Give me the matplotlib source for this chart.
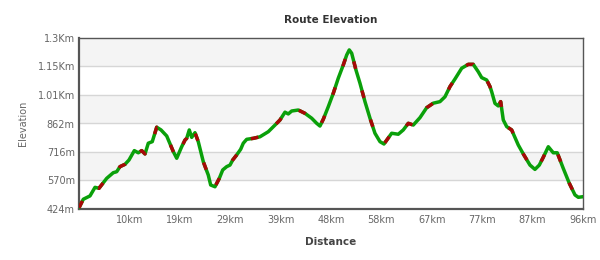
import matplotlib
matplotlib.use("Agg")
import matplotlib.pyplot as plt

distance_km = [0.0, 0.82, 2.10, 3.06, 3.82, 5.29, 6.55, 7.20, 7.83, 8.79, 9.55, 10.57, 11.33,
               11.98, 12.61, 13.24, 14.00, 14.85, 15.67, 16.76, 18.02, 18.67, 19.62, 20.25,
               20.58, 21.07, 21.53, 22.16, 22.79, 23.75, 24.70, 25.16, 25.98, 26.81, 27.46,
               28.22, 28.85, 29.37, 30.13, 30.89, 31.39, 32.04, 33.30, 34.58, 36.17, 37.45,
               38.40, 39.36, 39.99, 40.64, 41.90, 43.18, 44.46, 45.41, 46.04, 46.68, 47.63,
               48.59, 49.54, 50.50, 51.15, 51.64, 52.10, 52.92, 53.69, 54.64, 55.60, 56.55,
               57.51, 58.27, 59.74, 61.00, 61.96, 62.92, 63.87, 65.15, 66.43, 67.69, 68.97,
               69.93, 70.88, 71.84, 73.12, 74.38, 75.33, 76.29, 76.94, 77.89, 78.53, 78.85,
               79.48, 80.11, 80.57, 81.07, 81.72, 82.67, 83.93, 84.89, 86.17, 87.12, 87.95,
               88.71, 89.67, 90.62, 91.38, 92.53, 93.68, 94.77, 95.40, 96.30]
elevation_m = [430, 474, 491, 535, 530, 581, 610, 615, 641, 653, 675, 723, 712,
               723, 706, 761, 769, 843, 829, 798, 718, 684, 743, 777,
               786, 829, 791, 815, 769, 666, 598, 547, 538, 581, 624,
               641, 649, 675, 701, 730, 761, 781, 786, 794, 820, 854,
               880, 920, 911, 926, 931, 914, 889, 863, 849, 884, 948,
               1017, 1094, 1162, 1213, 1239, 1222, 1136, 1068, 974, 889, 812,
               769, 757, 812, 807, 829, 863, 854, 892, 943, 966, 974,
               999, 1051, 1090, 1145, 1165, 1165, 1127, 1097, 1085, 1051, 1025,
               965, 952, 974, 880, 846, 829, 752, 706, 649, 627, 649,
               689, 743, 712, 712, 632, 556, 496, 484, 487]

y_ticks = [424, 570, 716, 862, 1008, 1154, 1300]
y_labels = ["424m", "570m", "716m", "862m", "1.01Km", "1.15Km", "1.3Km"]
x_ticks = [9.63, 19.26, 28.89, 38.52, 48.15, 57.78, 67.41, 77.04, 86.67, 96.3]
x_labels = ["10km", "19km", "29km", "39km", "48km", "58km", "67km", "77km", "87km", "96km"]

fig = plt.figure(figsize=(6, 2.6), dpi=100)
ax = fig.add_axes([79/600, 51/260, 504/600, 171/260])
ax.set_xlim(0, 96.3)
ax.set_ylim(424, 1300)

# alternating bands
for i in range(len(y_ticks) - 1):
    if i % 2 == 1:
        ax.axhspan(y_ticks[i], y_ticks[i+1], color="#f4f4f4", zorder=0, lw=0)
for yt in y_ticks[1:-1]:
    ax.axhline(yt, color="#d6d6d6", lw=1, zorder=1)

ax.plot(distance_km, elevation_m, color="#0aa00a", lw=2.5, solid_capstyle="round",
        solid_joinstyle="round", zorder=3)
ax.plot(distance_km, elevation_m, color="#a80808", lw=2.5, dashes=(2.2, 6.5),
        dash_capstyle="butt", zorder=4)

ax.set_yticks(y_ticks)
ax.set_yticklabels(y_labels)
ax.set_xticks(x_ticks)
ax.set_xticklabels(x_labels)
ax.tick_params(length=0, labelsize=7, labelcolor="#666666", pad=4)
ax.tick_params(axis="y", pad=3)

for side, sp in ax.spines.items():
    sp.set_color("#555555")
    sp.set_linewidth(1.0)
ax.spines["left"].set_linewidth(1.6)
ax.spines["bottom"].set_linewidth(1.6)

ax.set_title("Route Elevation", fontsize=7.5, fontweight="bold", color="#333333", pad=11)
ax.set_xlabel("Distance", fontsize=7.5, fontweight="bold", color="#444444", labelpad=9)
ax.set_ylabel("Elevation", fontsize=7, color="#666666", labelpad=7)

fig.savefig("out.png", dpi=100, facecolor="white")
